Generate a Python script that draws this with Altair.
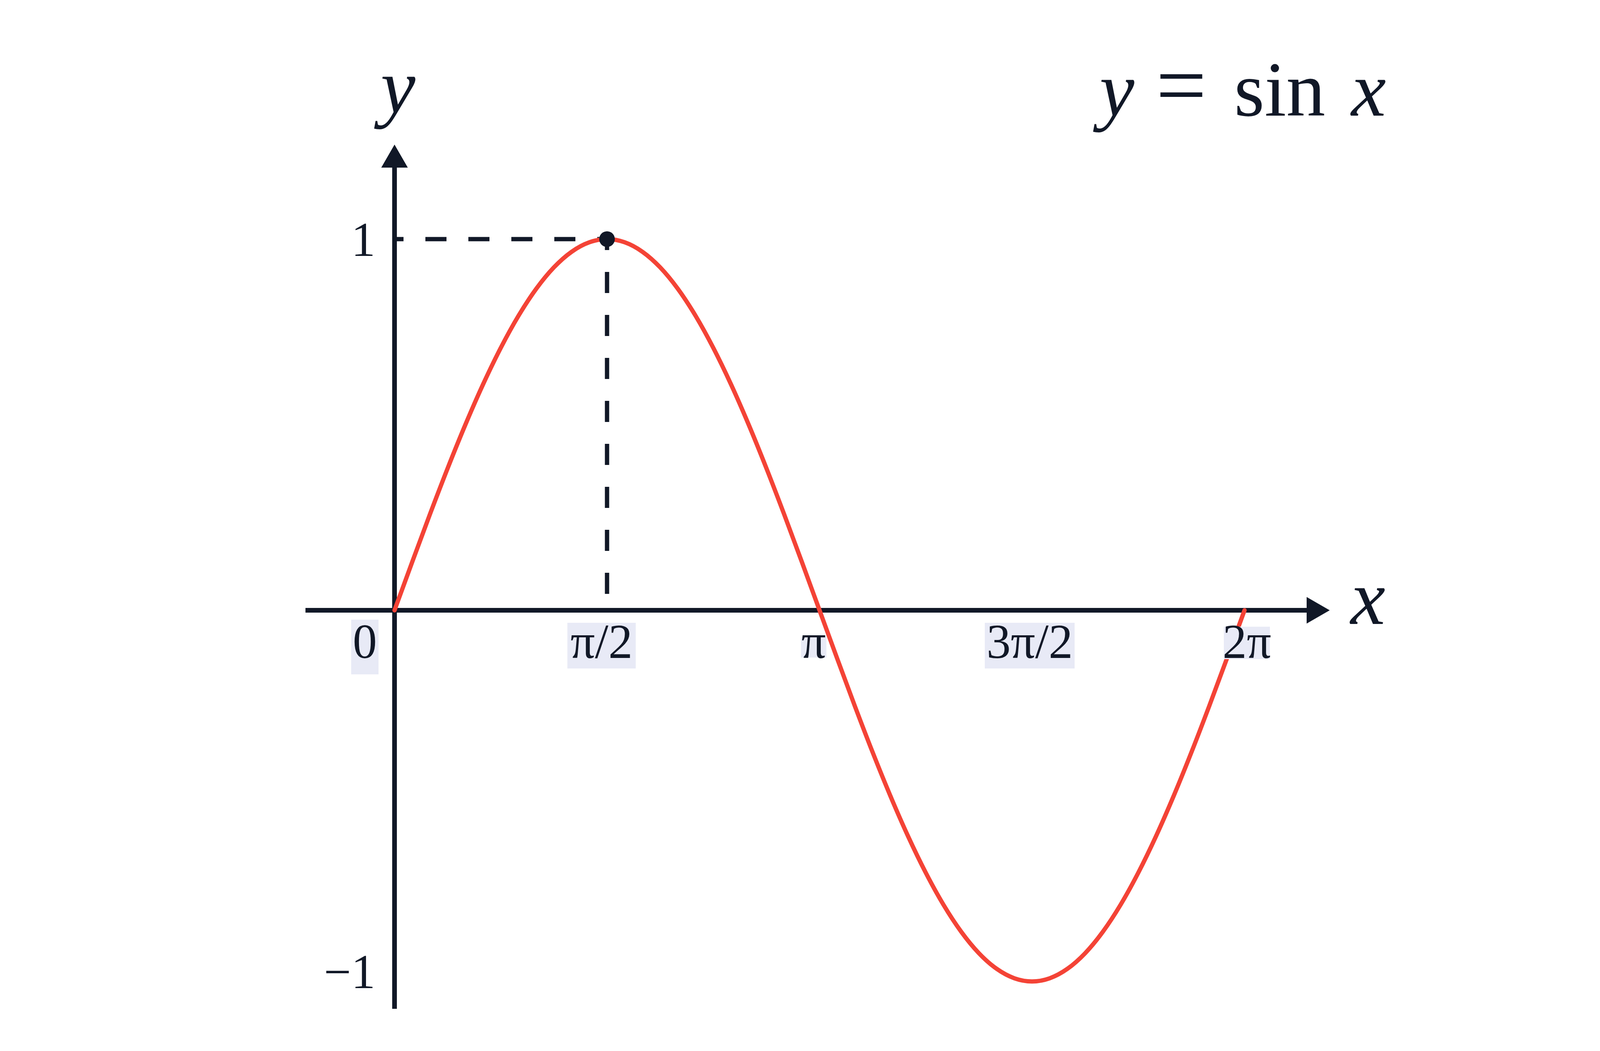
import altair as alt
import pandas as pd

# ---------------- data ----------------
# curve y = sin x, x in degrees (0 .. 360 = 0 .. 2π)
curve_x_deg = [0, 7.5, 15, 22.5, 30, 37.5, 45, 52.5, 60, 67.5, 75, 82.5, 90,
               97.5, 105, 112.5, 120, 127.5, 135, 142.5, 150, 157.5, 165, 172.5, 180,
               187.5, 195, 202.5, 210, 217.5, 225, 232.5, 240, 247.5, 255, 262.5, 270,
               277.5, 285, 292.5, 300, 307.5, 315, 322.5, 330, 337.5, 345, 352.5, 360]
curve_y = [0.0, 0.1305, 0.2588, 0.3827, 0.5, 0.6088, 0.7071, 0.7934, 0.8660, 0.9239, 0.9659, 0.9914, 1.0,
           0.9914, 0.9659, 0.9239, 0.8660, 0.7934, 0.7071, 0.6088, 0.5, 0.3827, 0.2588, 0.1305, 0.0,
           -0.1305, -0.2588, -0.3827, -0.5, -0.6088, -0.7071, -0.7934, -0.8660, -0.9239, -0.9659, -0.9914, -1.0,
           -0.9914, -0.9659, -0.9239, -0.8660, -0.7934, -0.7071, -0.6088, -0.5, -0.3827, -0.2588, -0.1305, 0.0]

x_tick_deg = [0, 90, 180, 270, 360]
x_tick_text = ["0", "π/2", "π", "3π/2", "2π"]
y_tick_val = [1, -1]
y_tick_text = ["1", "−1"]
peak_x_deg = [90]
peak_y = [1]

# ---------------- style ----------------
NAVY = "#111827"
RED = "#F44336"
BOX = "#E8EAF6"
FONT = "Liberation Serif"

W, H = 3900, 2620                 # plot area (page starts at 8 px)
PX_PER_DEG = 2176 / 360           # horizontal scale
PX_PER_Y = 950                    # vertical scale
X0_PAGE, Y0_PAGE = 1010, 1562     # page position of the origin

DMIN = -(X0_PAGE - 8) / PX_PER_DEG
DMAX = DMIN + W / PX_PER_DEG
YMAX = (Y0_PAGE - 8) / PX_PER_Y
YMIN = YMAX - H / PX_PER_Y


def dpx(px):      # horizontal pixel offset from origin -> degrees
    return px / PX_PER_DEG


def ypx(px):      # vertical pixel offset (downwards) from origin -> y units
    return -px / PX_PER_Y


xs = alt.Scale(domain=[DMIN, DMAX], nice=False, zero=False)
ys = alt.Scale(domain=[YMIN, YMAX], nice=False, zero=False)


def X(f="x"):
    return alt.X(f, type="quantitative", scale=xs, axis=None)


def Y(f="y"):
    return alt.Y(f, type="quantitative", scale=ys, axis=None)


# label placement styles (pixels)
x_label_dx = [-76, -14, -15, -6, 6]
x_box_w = [70, 175, 65, 230, 118]
x_box_top = [24, 32, 69, 32, 42]
x_box_bot = [164, 149, 121, 149, 125]
X_LABEL_DY = 122
y_label_dy = [43, 17]

# ---------------- layers ----------------
curve_df = pd.DataFrame({"x": curve_x_deg, "y": curve_y})

# axes
x_axis = alt.Chart(pd.DataFrame({"x": [dpx(782 - X0_PAGE)], "x2": [dpx(3350 - X0_PAGE)], "y": [0]})).mark_rule(
    color=NAVY, strokeWidth=12).encode(x=X("x"), x2="x2", y=Y("y"))
y_axis = alt.Chart(pd.DataFrame({"x": [0], "y": [ypx(2582 - Y0_PAGE)], "y2": [ypx(424 - Y0_PAGE)]})).mark_rule(
    color=NAVY, strokeWidth=12).encode(x=X("x"), y=Y("y"), y2="y2")

ARROW_UP = "M -0.576 0 L 0.576 0 L 0 -1 Z"
ARROW_RIGHT = "M 0 -0.576 L 0 0.576 L 1 0 Z"
ARROW_SIZE = 118 ** 2
arrow_x = alt.Chart(pd.DataFrame({"x": [dpx(3345 - X0_PAGE)], "y": [0]})).mark_point(
    shape=ARROW_RIGHT, size=ARROW_SIZE, filled=True, color=NAVY, opacity=1, strokeWidth=0).encode(
    x=X("x"), y=Y("y"))
arrow_y = alt.Chart(pd.DataFrame({"x": [0], "y": [ypx(429 - Y0_PAGE)]})).mark_point(
    shape=ARROW_UP, size=ARROW_SIZE, filled=True, color=NAVY, opacity=1, strokeWidth=0).encode(
    x=X("x"), y=Y("y"))

peak_df = pd.DataFrame({"x": peak_x_deg, "y": peak_y, "x0": [0], "y0": [0]})
dash_h = alt.Chart(peak_df).mark_rule(color=NAVY, strokeWidth=11, strokeDash=[54, 56], strokeDashOffset=29).encode(
    x=X("x"), x2="x0", y=Y("y"))
dash_v = alt.Chart(peak_df).mark_rule(color=NAVY, strokeWidth=11, strokeDash=[54, 56], strokeDashOffset=26).encode(
    x=X("x"), y=Y("y"), y2="y0")

curve = alt.Chart(curve_df).mark_line(color=RED, strokeWidth=11, strokeCap="round",
                                      strokeJoin="round", interpolate="monotone").encode(
    x=X("x"), y=Y("y"), order="x:Q")

dot = alt.Chart(peak_df).mark_circle(color=NAVY, size=1600, opacity=1).encode(x=X("x"), y=Y("y"))

# x tick labels with highlight boxes
lab_df = pd.DataFrame({
    "tick": x_tick_deg,
    "text": x_tick_text,
    "cx": [t + dpx(d) for t, d in zip(x_tick_deg, x_label_dx)],
})
lab_df["bx"] = [c - dpx(w / 2) for c, w in zip(lab_df["cx"], x_box_w)]
lab_df["bx2"] = [c + dpx(w / 2) for c, w in zip(lab_df["cx"], x_box_w)]
lab_df["by"] = [ypx(t) for t in x_box_top]
lab_df["by2"] = [ypx(b) for b in x_box_bot]
lab_df["ty"] = 0

boxes = alt.Chart(lab_df).mark_rect(color=BOX, opacity=1).encode(
    x=X("bx"), x2="bx2", y=Y("by"), y2="by2")
x_labels = alt.Chart(lab_df).mark_text(
    font=FONT, fontSize=124, color=NAVY, align="center", baseline="alphabetic", dy=X_LABEL_DY).encode(
    x=X("cx"), y=Y("ty"), text="text:N")

# y tick labels
ylab_df = pd.DataFrame({
    "y": [v + ypx(d) for v, d in zip(y_tick_val, y_label_dy)],
    "text": y_tick_text,
    "x": [dpx(961 - X0_PAGE)] * 2,
})
y_labels = alt.Chart(ylab_df).mark_text(
    font=FONT, fontSize=124, color=NAVY, align="right", baseline="alphabetic").encode(
    x=X("x"), y=Y("y"), text="text:N")

# axis names
ax_df = pd.DataFrame({
    "x": [dpx(1019 - X0_PAGE), dpx(3502 - X0_PAGE)],
    "y": [ypx(288 - Y0_PAGE), ypx(1597 - Y0_PAGE)],
    "text": ["y", "x"],
})
ax_names = alt.Chart(ax_df).mark_text(
    font=FONT, fontSize=200, fontStyle="italic", color=NAVY, align="center", baseline="alphabetic").encode(
    x=X("x"), y=Y("y"), text="text:N")

# title  y = sin x  (right-aligned with the x label)
TITLE_BASE = ypx(296 - Y0_PAGE)
t_y = alt.Chart(pd.DataFrame({"x": [dpx(2815 - X0_PAGE)], "y": [TITLE_BASE], "t": ["y"]})).mark_text(
    font=FONT, fontSize=200, fontStyle="italic", color=NAVY, align="left", baseline="alphabetic").encode(
    x=X("x"), y=Y("y"), text="t:N")
t_eq = alt.Chart(pd.DataFrame({"x": [dpx(3024 - X0_PAGE)], "y": [TITLE_BASE], "t": ["="]})).mark_text(
    font=FONT, fontSize=230, color=NAVY, align="center", baseline="alphabetic").encode(
    x=X("x"), y=Y("y"), text="t:N")
t_sin = alt.Chart(pd.DataFrame({"x": [dpx(3276 - X0_PAGE)], "y": [TITLE_BASE], "t": ["sin"]})).mark_text(
    font=FONT, fontSize=200, color=NAVY, align="center", baseline="alphabetic").encode(
    x=X("x"), y=Y("y"), text="t:N")
t_x = alt.Chart(pd.DataFrame({"x": [dpx(3548 - X0_PAGE)], "y": [TITLE_BASE], "t": ["x"]})).mark_text(
    font=FONT, fontSize=200, fontStyle="italic", color=NAVY, align="right", baseline="alphabetic").encode(
    x=X("x"), y=Y("y"), text="t:N")

chart = alt.layer(
    x_axis, y_axis, arrow_x, arrow_y, dash_h, dash_v, curve, dot,
    boxes, x_labels, y_labels, ax_names, t_y, t_eq, t_sin, t_x,
).properties(
    width=W, height=H,
    autosize=alt.AutoSizeParams(type="none"),
    padding=0,
    background="white",
).configure_view(stroke=None)

chart.save("out.html", embed_options={"renderer": "svg", "actions": False})
